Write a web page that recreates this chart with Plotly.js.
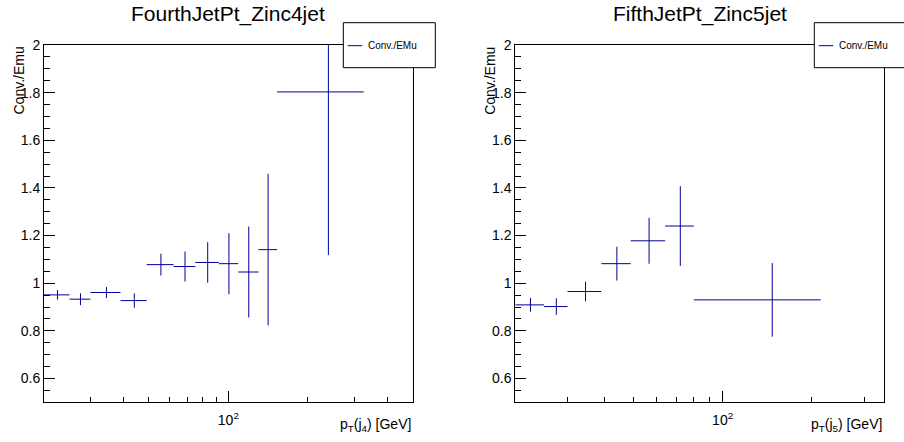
<!DOCTYPE html>
<html>
<head>
<meta charset="utf-8">
<script src="https://cdn.plot.ly/plotly-3.0.1.min.js"></script>
<style>html,body{margin:0;padding:0;background:#fff;}#chart{width:904px;height:442px;}</style>
</head>
<body>
<div id="chart"></div>
<script>
// ---- data: FourthJetPt_Zinc4jet ----
const x4Center = [22.5, 27.5, 34.5, 44, 55.5, 68.5, 83.5, 100.5, 119.5, 141.5, 239.5];
const x4Half   = [2.5, 2.5, 4.5, 5, 6.5, 6.5, 8.5, 8.5, 10.5, 11.5, 86.5];
const y4Ratio  = [0.951, 0.933, 0.961, 0.927, 1.078, 1.070, 1.087, 1.082, 1.047, 1.141, 1.803];
const y4Err    = [0.020, 0.025, 0.023, 0.030, 0.046, 0.063, 0.085, 0.128, 0.191, 0.318, 0.685];

// ---- data: FifthJetPt_Zinc5jet ----
const x5Center = [22.5, 27.5, 34.5, 44, 56.5, 72, 147];
const x5Half   = [2.5, 2.5, 4.5, 5, 7.5, 8, 67];
const y5Ratio  = [0.909, 0.902, 0.965, 1.082, 1.178, 1.240, 0.930];
const y5Err    = [0.029, 0.035, 0.041, 0.071, 0.0965, 0.1675, 0.1545];

// ---- labels ----
const titles = ["FourthJetPt_Zinc4jet", "FifthJetPt_Zinc5jet"];
const xTitles = ["p<sub>T</sub>(j<sub>4</sub>) [GeV]", "p<sub>T</sub>(j<sub>5</sub>) [GeV]"];
const yTitle = "Conv./Emu";
const legendLabel = "Conv./EMu";
const majorXTicks = [100];
const majorXText = ["10<sup>2</sup>"];
const minorX4 = [30, 40, 50, 60, 70, 80, 90, 200, 300, 400];
const minorX5 = [30, 40, 50, 60, 70, 80, 90, 200, 300];

const W = 904, H = 442;
const px = v => v / W;
const py = v => 1 - v / H;
const FONT = "Liberation Sans, Arial, Helvetica, sans-serif";
const COL = "#000099";

function trace(xc, xh, y, ye, xa, ya) {
  return {
    type: "scatter", mode: "markers", x: xc, y: y, xaxis: xa, yaxis: ya,
    marker: {size: 1, opacity: 0, color: COL},
    error_x: {type: "data", array: xh, symmetric: true, width: 0, thickness: 1, color: COL},
    error_y: {type: "data", array: ye, symmetric: true, width: 0, thickness: 1, color: COL},
    showlegend: false, hoverinfo: "skip", cliponaxis: true
  };
}

function xaxis(domain, maxV, minors, anchor) {
  return {
    type: "log", domain: domain, anchor: anchor,
    range: [Math.log10(20), Math.log10(maxV)],
    tickmode: "array", tickvals: majorXTicks, ticktext: majorXText,
    ticks: "inside", ticklen: 11, tickwidth: 1, tickcolor: "#000",
    ticklabelstandoff: 5,
    minor: {tickmode: "array", tickvals: minors, ticks: "inside", ticklen: 5, tickwidth: 1, tickcolor: "#000", showgrid: false},
    showline: true, mirror: true, linecolor: "#000", linewidth: 1,
    showgrid: false, zeroline: false,
    tickfont: {family: FONT, size: 14, color: "#000"}
  };
}
function yaxis(anchor) {
  return {
    domain: [39.7 / H, 1 - 45 / H], anchor: anchor,
    range: [0.5, 2], tickmode: "linear", tick0: 0, dtick: 0.2,
    ticks: "inside", ticklen: 11, tickwidth: 1, tickcolor: "#000",
    minor: {dtick: 0.05, tick0: 0, ticks: "inside", ticklen: 6, tickwidth: 1, tickcolor: "#000", showgrid: false},
    showline: true, mirror: true, linecolor: "#000", linewidth: 1,
    showgrid: false, zeroline: false,
    tickfont: {family: FONT, size: 14, color: "#000"}
  };
}

const frames = [
  {l: 44, r: 412.7, leg: 343.3},
  {l: 515.3, r: 884, leg: 814.3}
];

const annotations = [];
const shapes = [];
frames.forEach((f, i) => {
  annotations.push({xref: "paper", yref: "paper", x: px((f.l + f.r) / 2), y: py(14),
    xanchor: "center", yanchor: "middle", showarrow: false, text: titles[i],
    font: {family: FONT, size: 21, color: "#000"}});
  annotations.push({xref: "paper", yref: "paper", x: px(f.r), y: py(425),
    xanchor: "right", yanchor: "middle", showarrow: false, text: xTitles[i],
    font: {family: FONT, size: 14, color: "#000"}});
  annotations.push({xref: "paper", yref: "paper", x: px(f.l - 25.5), y: py(45),
    xanchor: "center", yanchor: "top", textangle: -90, showarrow: false, text: yTitle,
    font: {family: FONT, size: 14, color: "#000"}});
  shapes.push({type: "rect", xref: "paper", yref: "paper", layer: "above",
    x0: px(f.leg), x1: px(f.leg + 92), y0: py(67.7), y1: py(22.7),
    fillcolor: "#fff", line: {color: "#000", width: 1}});
  shapes.push({type: "line", xref: "paper", yref: "paper", layer: "above",
    x0: px(f.leg + 4.4), x1: px(f.leg + 19), y0: py(45.7), y1: py(45.7),
    line: {color: COL, width: 1}});
  annotations.push({xref: "paper", yref: "paper", x: px(f.leg + 22.5), y: py(45.7),
    xanchor: "left", yanchor: "middle", showarrow: false, text: legendLabel,
    font: {family: FONT, size: 10, color: "#000"}});
});

const data = [
  trace(x4Center, x4Half, y4Ratio, y4Err, "x", "y"),
  trace(x5Center, x5Half, y5Ratio, y5Err, "x2", "y2")
];

const layout = {
  width: W, height: H, margin: {l: 0, r: 0, t: 0, b: 0},
  paper_bgcolor: "#fff", plot_bgcolor: "#fff", showlegend: false,
  xaxis: xaxis([px(44), px(412.7)], 500, minorX4, "y"),
  yaxis: yaxis("x"),
  xaxis2: xaxis([px(515.3), px(884)], 350, minorX5, "y2"),
  yaxis2: yaxis("x2"),
  annotations: annotations, shapes: shapes,
  font: {family: FONT, color: "#000"}
};

Plotly.newPlot("chart", data, layout, {staticPlot: true, displayModeBar: false});
</script>
</body>
</html>
